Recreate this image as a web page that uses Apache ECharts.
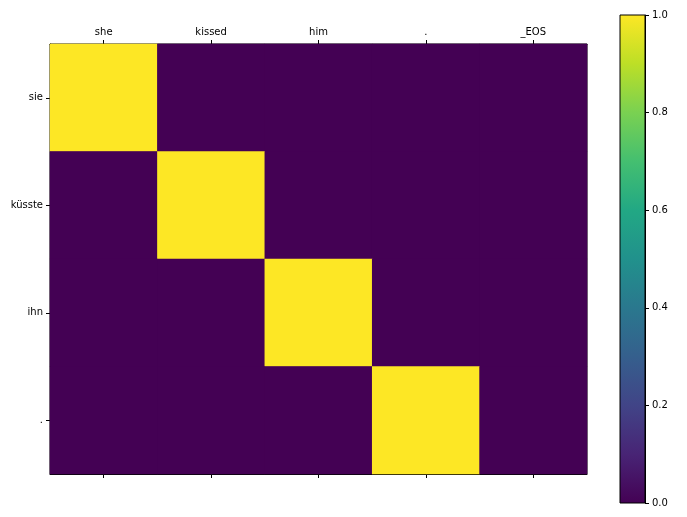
<!DOCTYPE html>
<html>
<head>
<meta charset="utf-8">
<script src="https://cdn.jsdelivr.net/npm/echarts@6/dist/echarts.min.js"></script>
<style>
  html, body { margin: 0; padding: 0; background: #fff; }
  #chart { width: 687px; height: 517px; }
</style>
</head>
<body>
<div id="chart"></div>
<script>
// source words (columns) and target words (rows)
const xLabels = ['she', 'kissed', 'him', '.', '_EOS'];
const yLabels = ['sie', 'küsste', 'ihn', '.'];
// attention weights, one row per target word
const attention = [
  [1, 0, 0, 0, 0],
  [0, 1, 0, 0, 0],
  [0, 0, 1, 0, 0],
  [0, 0, 0, 1, 0],
];
const colorbarTicks = [0, 0.2, 0.4, 0.6, 0.8, 1.0];

const viridis = ['#440154', '#482475', '#414487', '#355f8d', '#2a788e', '#21918c',
  '#22a884', '#44bf70', '#7ad151', '#bddf26', '#fde725'];

const cells = [];
attention.forEach((row, yi) => {
  row.forEach((v, xi) => cells.push([xi, yi, v]));
});

const font = { fontFamily: 'DejaVu Sans', fontSize: 10, color: '#000' };
const line = { show: true, onZero: false, lineStyle: { color: '#000', width: 1 } };
const tick = { show: true, alignWithLabel: true, length: 4, lineStyle: { color: '#000', width: 1 } };

const chart = echarts.init(document.getElementById('chart'));
chart.setOption({
  backgroundColor: '#fff',
  animation: false,
  grid: [
    // dark background hides the seams between cells
    { left: 50, top: 44, width: 537, height: 430, show: true, borderColor: '#000', borderWidth: 1, backgroundColor: viridis[0] },
    {
      left: 620, top: 15, width: 25, height: 488, show: true, borderColor: '#000', borderWidth: 1,
      backgroundColor: new echarts.graphic.LinearGradient(0, 1, 0, 0,
        viridis.map((c, i) => ({ offset: i / (viridis.length - 1), color: c })))
    }
  ],
  xAxis: [
    {
      gridIndex: 0, type: 'category', data: xLabels, position: 'top',
      axisLine: line, splitLine: { show: false }, axisTick: tick,
      axisLabel: Object.assign({ margin: 7 }, font)
    },
    {
      gridIndex: 0, type: 'category', data: xLabels, position: 'bottom',
      axisLine: line, splitLine: { show: false }, axisTick: tick,
      axisLabel: { show: false }
    },
    { gridIndex: 1, type: 'value', min: 0, max: 1, show: false }
  ],
  yAxis: [
    {
      gridIndex: 0, type: 'category', data: yLabels, inverse: true,
      axisLine: line, splitLine: { show: false }, axisTick: tick,
      axisLabel: Object.assign({ margin: 7 }, font)
    },
    {
      gridIndex: 1, type: 'value', position: 'right', min: colorbarTicks[0],
      max: colorbarTicks[colorbarTicks.length - 1], interval: 0.2,
      axisLine: line, splitLine: { show: false },
      axisTick: { show: true, length: 4, lineStyle: { color: '#000', width: 1 } },
      axisLabel: Object.assign({ margin: 7, formatter: v => v.toFixed(1) }, font)
    }
  ],
  visualMap: {
    show: false, min: 0, max: 1, seriesIndex: 0, dimension: 2,
    inRange: { color: viridis }
  },
  series: [{
    type: 'heatmap', xAxisIndex: 0, yAxisIndex: 0, data: cells,
    itemStyle: { borderWidth: 0 },
    emphasis: { disabled: true }
  }]
});
</script>
</body>
</html>
